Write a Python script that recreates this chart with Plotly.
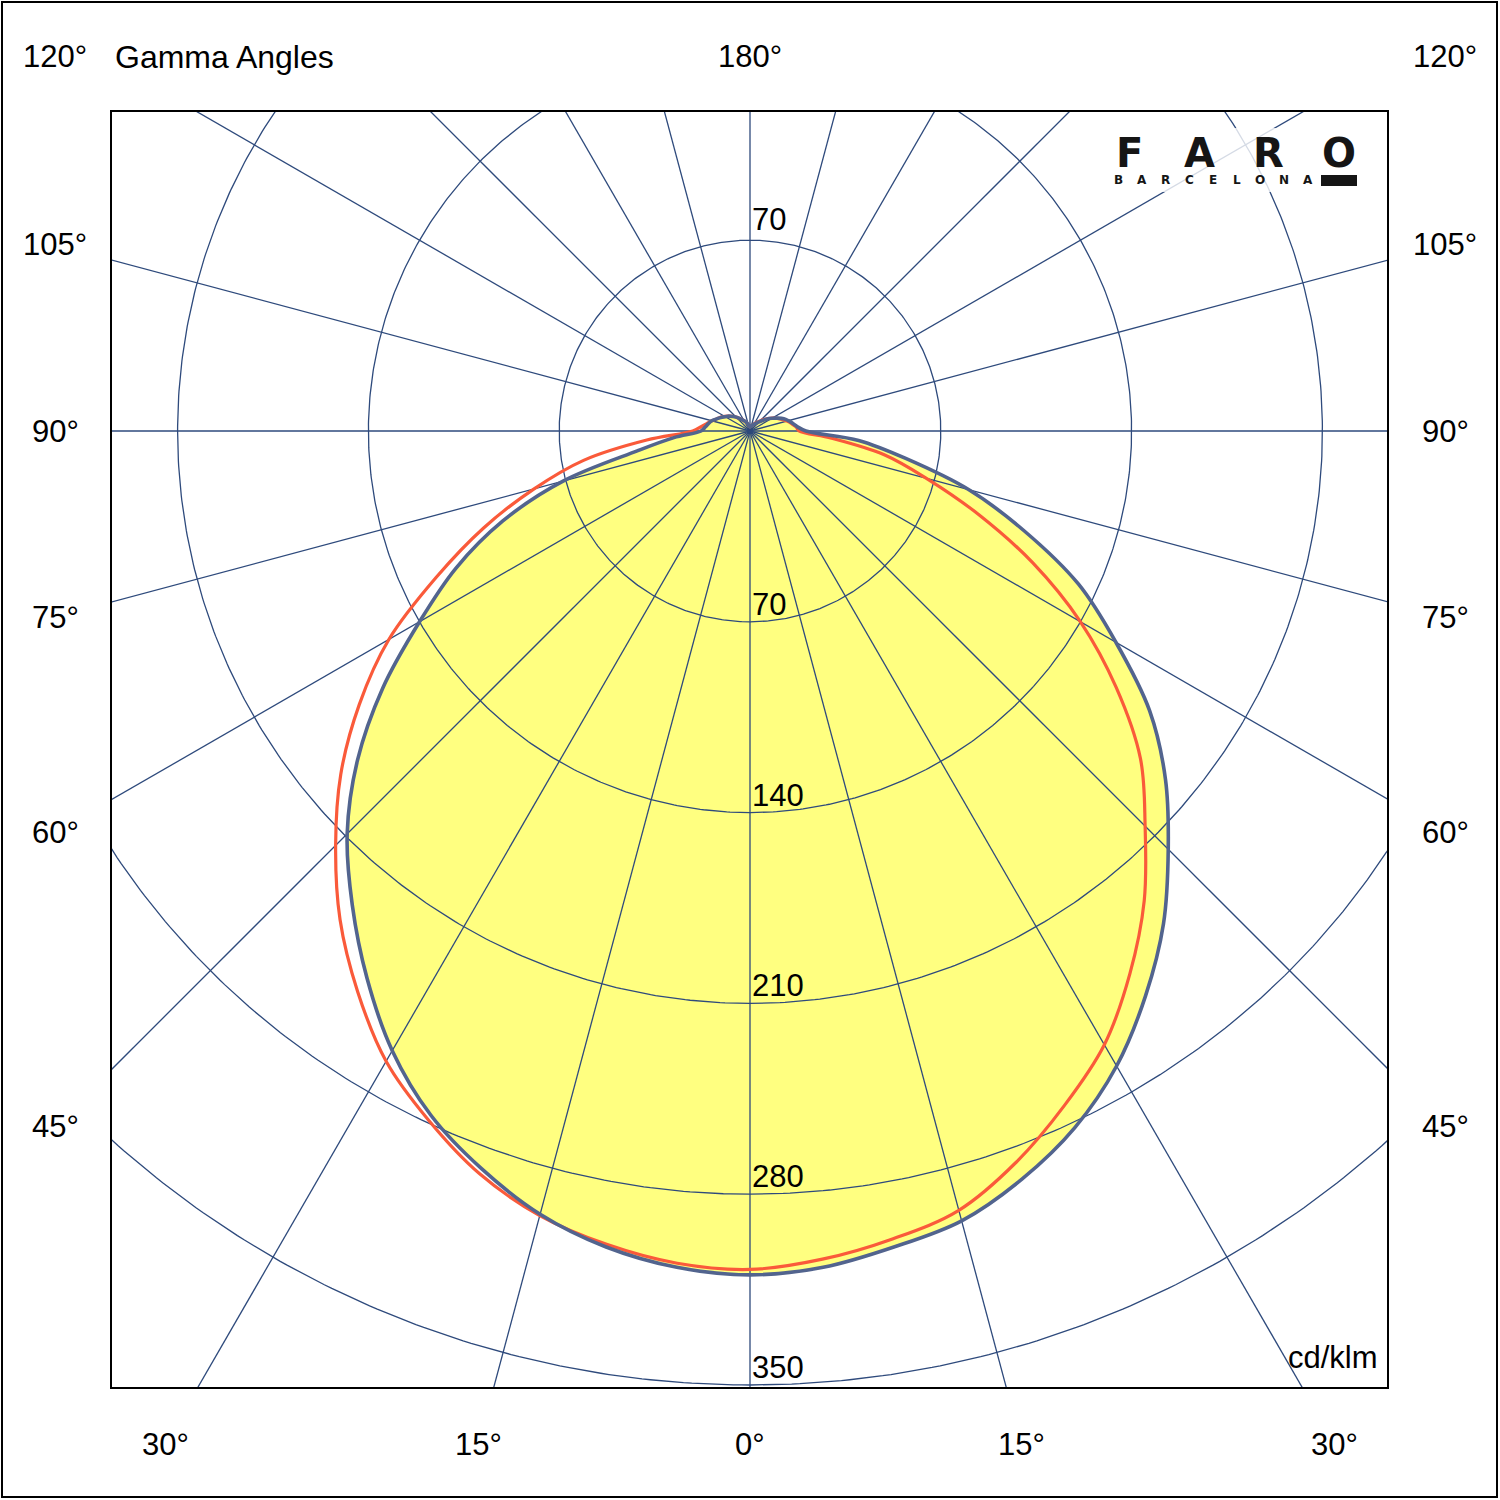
import numpy as np
import plotly.graph_objects as go

# ---------------- data (cd/klm) ----------------
GAMMA = [0, 5, 10, 15, 20, 25, 30, 35, 40, 45, 50, 55, 60, 65, 70, 75, 80, 85, 90,
         95, 100, 105, 110, 115, 120, 125, 130, 135, 140, 150, 160, 170, 180]

# C0 - C180 plane (blue outline, yellow fill)
BLUE_RIGHT = [309.6, 308, 304, 300, 292, 282, 269, 253, 236, 217, 199, 179, 155, 133, 107, 83, 58, 40, 20.5,
              17.5, 16, 14.6, 13.2, 11.2, 9.3, 7.7, 6.0, 4.7, 3.8, 2.8, 2.2, 1.8, 1.5]
BLUE_LEFT = [309.6, 308, 304, 297.5, 288, 277, 262.5, 245, 227, 209, 188, 164.5, 140, 119, 96.5, 71, 42, 28, 18,
             16.5, 15.5, 14.5, 13, 11.8, 10.5, 9.5, 8.3, 7.2, 6.0, 4.3, 3.0, 2.0, 1.5]

# C90 - C270 plane (red outline)
RED_RIGHT = [307.6, 305, 301, 296, 285.5, 273, 260, 243, 225, 205, 187, 164, 140, 114.5, 89, 67, 50, 30, 18,
             17, 15.5, 14, 12.5, 11, 9.5, 8, 6.5, 5.2, 4.2, 3.0, 2.2, 1.8, 1.5]
RED_LEFT = [307.6, 306.5, 303, 298, 290, 279, 267, 251, 234, 215, 196, 175, 153, 127, 104, 82, 62, 38, 21,
            18, 16, 14.5, 13, 12, 10.8, 9.6, 8.4, 7.2, 6.0, 4.3, 3.0, 2.0, 1.5]

RINGS = [70, 140, 210, 280, 350]
RING_LABELS = ["70", "140", "210", "280", "350"]
SPOKE_ANGLES = list(range(0, 360, 15))
SIDE_LABEL_ANGLES = [45, 60, 75, 90, 105, 120]
BOTTOM_LABEL_ANGLES = [0, 15, 30]
TOP_LABEL = "180°"
UNIT = "cd/klm"
TITLE = "Gamma Angles"
LOGO_LETTERS = ["F", "A", "R", "O"]
LOGO_SUB = list("BARCELONA")

# ---------------- geometry ----------------
S = 954 / 350.0          # px per cd/klm
CX, CY = 750, 431        # pole position in px
L, T, W = 112, 112, 1275  # plot area (square)
XMIN, XMAX = (L - CX) / S, (L + W - CX) / S
YMIN, YMAX = (CY - (T + W)) / S, (CY - T) / S


def paper(px, py):
    return (px - L) / W, (T + W - py) / W


def polar_xy(gammas, rs, side):
    g = np.radians(np.asarray(gammas, dtype=float))
    r = np.asarray(rs, dtype=float)
    return side * r * np.sin(g), -r * np.cos(g)


# closed curves: left side from 180 down to 0, then right side from 0 up to 180
bxl, byl = polar_xy(GAMMA, BLUE_LEFT, -1)
bxr, byr = polar_xy(GAMMA, BLUE_RIGHT, 1)
bx = np.concatenate([bxl[::-1], bxr[1:]])
by = np.concatenate([byl[::-1], byr[1:]])
rxl, ryl = polar_xy(GAMMA, RED_LEFT, -1)
rxr, ryr = polar_xy(GAMMA, RED_RIGHT, 1)
rx = np.concatenate([rxl[::-1], rxr[1:]])
ry = np.concatenate([ryl[::-1], ryr[1:]])

GRID = "#2E4A7C"
BLUE = "#52648E"
RED = "#FA5A3A"
YELLOW = "#FFFF80"
SMOOTH = dict(shape="spline", smoothing=1.0)

fig = go.Figure()

# yellow fill
fig.add_trace(go.Scatter(x=bx, y=by, mode="lines", fill="toself", fillcolor=YELLOW,
                         line=dict(width=0, color=YELLOW, **SMOOTH), hoverinfo="skip", showlegend=False))

# rings
cx_, cy_ = [], []
th = np.linspace(0, 2 * np.pi, 721)
for r in RINGS:
    cx_ += list(r * np.sin(th)) + [None]
    cy_ += list(-r * np.cos(th)) + [None]
fig.add_trace(go.Scatter(x=cx_, y=cy_, mode="lines", line=dict(color=GRID, width=1.3),
                         hoverinfo="skip", showlegend=False))

# spokes
sx, sy = [], []
for a in SPOKE_ANGLES:
    ar = np.radians(a)
    sx += [0, 600 * np.sin(ar), None]
    sy += [0, -600 * np.cos(ar), None]
fig.add_trace(go.Scatter(x=sx, y=sy, mode="lines", line=dict(color=GRID, width=1.3),
                         hoverinfo="skip", showlegend=False))

# curves
fig.add_trace(go.Scatter(x=rx, y=ry, mode="lines", line=dict(color=RED, width=3.2, **SMOOTH),
                         hoverinfo="skip", showlegend=False))
fig.add_trace(go.Scatter(x=bx, y=by, mode="lines", line=dict(color=BLUE, width=3.6, **SMOOTH),
                         hoverinfo="skip", showlegend=False))

FONT = "Liberation Sans, Arial, sans-serif"
ann = []


def add_text(px, py, text, size=31, xanchor="center", yanchor="middle", family=FONT, color="black"):
    x, y = paper(px, py)
    ann.append(dict(x=x, y=y, xref="paper", yref="paper", text=text, showarrow=False,
                    xanchor=xanchor, yanchor=yanchor, font=dict(family=family, size=size, color=color)))


# angle labels around the frame
COL_DX = 695   # px from pole to side label column
TOP_Y = 57
BOT_Y = 1444
for g in SIDE_LABEL_ANGLES:
    py = CY + COL_DX / np.tan(np.radians(g)) if g != 90 else CY
    py = max(py, TOP_Y)
    add_text(CX - COL_DX, py, f"{g}°")
    add_text(CX + COL_DX, py, f"{g}°")
for g in BOTTOM_LABEL_ANGLES:
    dx = (BOT_Y - CY) * np.tan(np.radians(g))
    add_text(CX - dx, BOT_Y, f"{g}°")
    if g != 0:
        add_text(CX + dx, BOT_Y, f"{g}°")
add_text(CX, TOP_Y, TOP_LABEL)
add_text(113, TOP_Y, TITLE, size=32, xanchor="left")

# ring labels
for r, lab in zip(RINGS, RING_LABELS):
    add_text(CX, CY + r * S + 2, lab, xanchor="left", yanchor="bottom")
add_text(CX, CY - RINGS[0] * S - 1, RING_LABELS[0], xanchor="left", yanchor="bottom")

add_text(1380, 1357, UNIT, size=31, xanchor="right")

# logo
for letter, px in zip(LOGO_LETTERS, [1129, 1199, 1268, 1339]):
    add_text(px, 153, f"<b>{letter}</b>", size=40, family="DejaVu Sans, sans-serif", color="#151515")
for i, letter in enumerate(LOGO_SUB):
    add_text(1118 + i * 23.7, 180, f"<b>{letter}</b>", size=12, family="DejaVu Sans, sans-serif", color="#151515")

shapes = []
# logo backdrop
x0, y0 = paper(1102, 192)
x1, y1 = paper(1368, 128)
shapes.append(dict(type="rect", xref="paper", yref="paper", x0=x0, y0=y0, x1=x1, y1=y1,
                   fillcolor="rgba(255,255,255,0.8)", line=dict(width=0), layer="above"))
# logo bar
x0, y0 = paper(1321, 186)
x1, y1 = paper(1357, 175)
shapes.append(dict(type="rect", xref="paper", yref="paper", x0=x0, y0=y0, x1=x1, y1=y1,
                   fillcolor="#151515", line=dict(width=0), layer="above"))
# outer frame
x0, y0 = paper(2, 1497)
x1, y1 = paper(1497, 2)
shapes.append(dict(type="rect", xref="paper", yref="paper", x0=x0, y0=y0, x1=x1, y1=y1,
                   fillcolor="rgba(0,0,0,0)", line=dict(color="black", width=2), layer="above"))

axis_common = dict(showgrid=False, zeroline=False, showticklabels=False, ticks="",
                   showline=True, mirror=True, linecolor="black", linewidth=1.5, fixedrange=True)
fig.update_layout(
    width=1500, height=1500,
    margin=dict(l=L, r=1500 - L - W, t=T, b=1500 - T - W),
    paper_bgcolor="white", plot_bgcolor="white",
    xaxis=dict(range=[XMIN, XMAX], **axis_common),
    yaxis=dict(range=[YMIN, YMAX], **axis_common),
    annotations=ann, shapes=shapes, showlegend=False,
)

fig.write_html("out.html", config={"displayModeBar": False})
